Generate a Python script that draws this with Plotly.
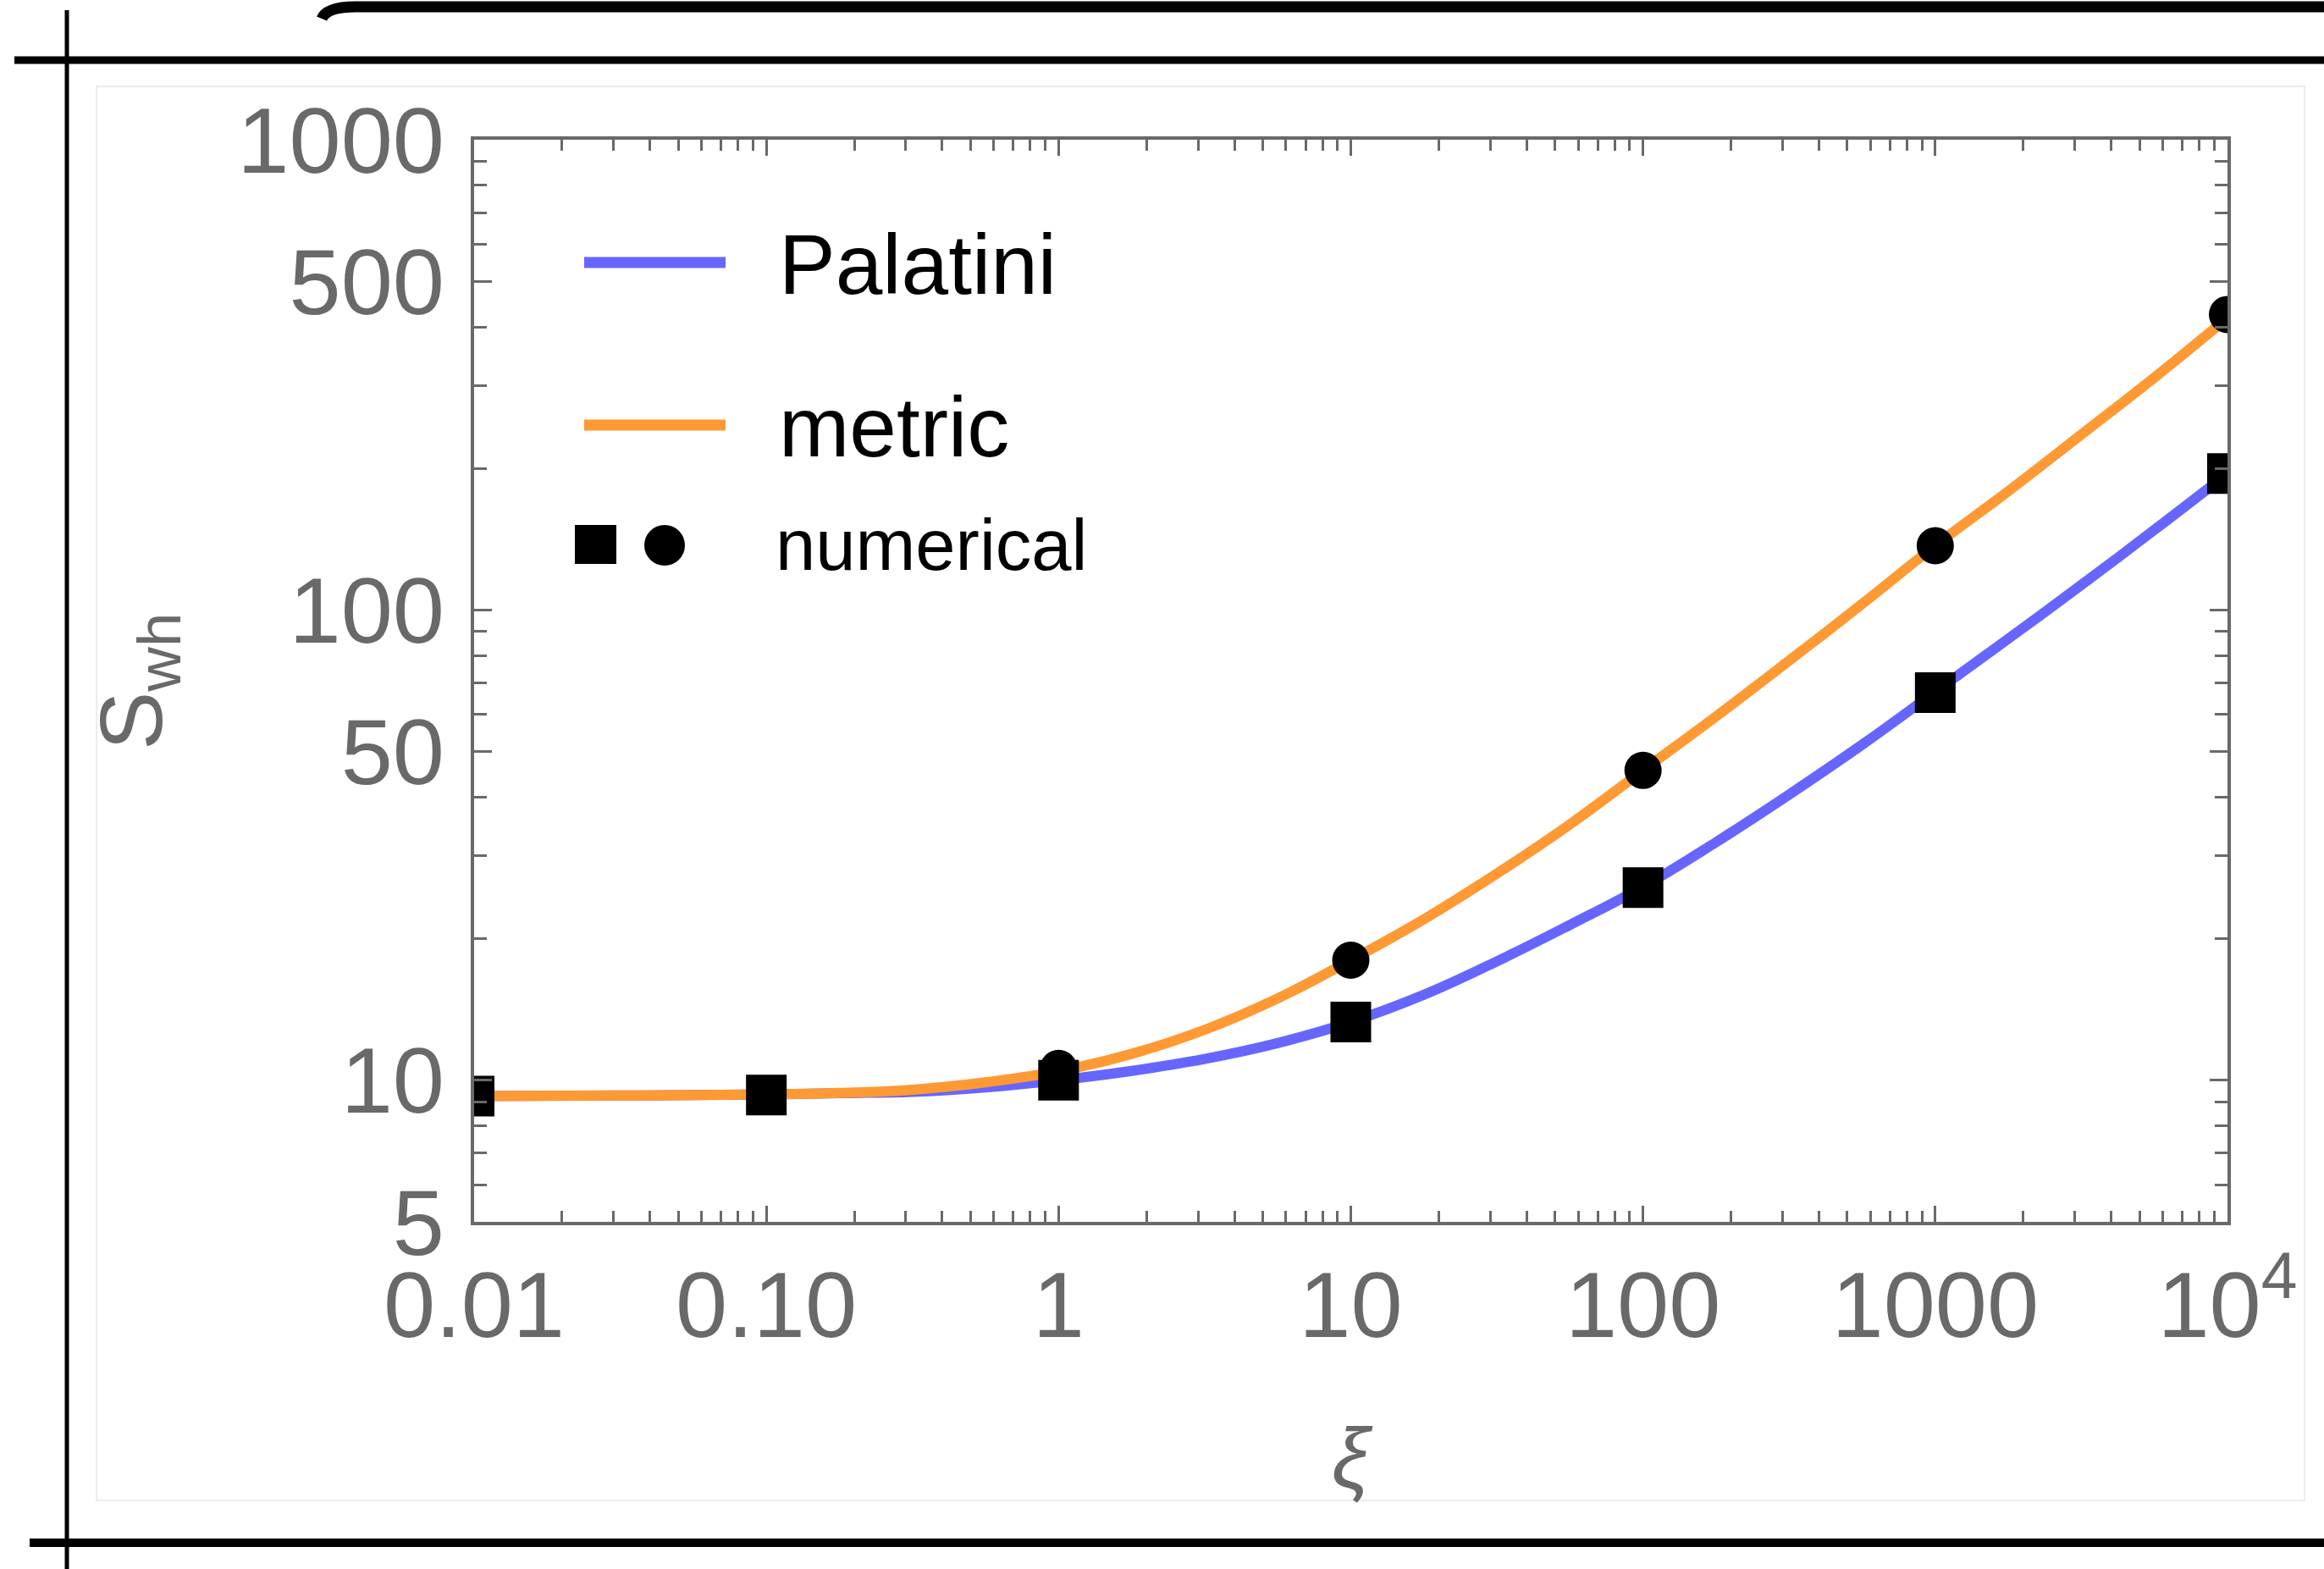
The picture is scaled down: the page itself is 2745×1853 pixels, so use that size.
import plotly.graph_objects as go
import numpy as np

# ---- data -------------------------------------------------------------
# numerical results (squares: Palatini, circles: metric)
xi_pts = [0.01, 0.1, 1, 10, 100, 1000, 10000]
palatini_pts = [9.25, 9.3, 10.0, 13.3, 25.7, 66.7, 195]
metric_pts = [9.25, 9.3, 10.6, 18.0, 45.6, 137, 425]

# analytic curves, sampled every quarter decade in xi
xi_curve = [0.01, 0.0316, 0.1, 0.178, 0.316, 0.562, 1.0, 1.78, 3.16, 5.62,
            10, 17.8, 31.6, 56.2, 100, 178, 316, 562, 1000, 1780, 3160, 5620, 10000]
palatini_curve = [9.25, 9.28, 9.33, 9.39, 9.45, 9.66, 10.0, 10.47, 11.1, 12.0,
                  13.3, 15.2, 17.9, 21.4, 25.8, 32.1, 40.5, 51.7, 67.0, 86.9, 113, 148, 195]
metric_curve = [9.25, 9.28, 9.33, 9.40, 9.55, 9.90, 10.45, 11.38, 12.8, 14.93,
                18.0, 22.0, 27.5, 35.0, 45.6, 59.4, 78.0, 103, 137, 179, 236, 312, 418]

x_tickvals = [0.01, 0.1, 1, 10, 100, 1000, 10000]
x_ticktext = ["0.01", "0.10", "1", "10", "100", "1000", "10<sup>4</sup>"]
y_tickvals = [5, 10, 50, 100, 500, 1000]
y_ticktext = ["5", "10", "50", "100", "500", "1000"]

BLUE = "rgb(102,102,255)"
ORANGE = "rgb(255,153,51)"
GRAY = "#696969"
FONT = "Liberation Sans, Arial, Helvetica, sans-serif"

W, H = 2745, 1853
L, R, T, B = 560, 114, 165, 410
PW, PH = W - L - R, H - T - B


def px(x):
    return (x - L) / PW


def py(y):
    return (H - B - y) / PH


x_minor = [m * 10 ** e for e in range(-2, 4) for m in range(2, 10)]
y_minor = [6, 7, 8, 9, 20, 30, 40, 60, 70, 80, 90, 200, 300, 400, 600, 700, 800, 900]

fig = go.Figure()

fig.add_trace(go.Scatter(x=xi_curve, y=palatini_curve, mode="lines",
                         line=dict(color=BLUE, width=12, shape="spline", smoothing=1.2),
                         showlegend=False))
fig.add_trace(go.Scatter(x=xi_curve, y=metric_curve, mode="lines",
                         line=dict(color=ORANGE, width=12, shape="spline", smoothing=1.2),
                         showlegend=False))
fig.add_trace(go.Scatter(x=xi_pts, y=metric_pts, mode="markers",
                         marker=dict(symbol="circle", size=44, color="black", line=dict(width=0)),
                         showlegend=False))
fig.add_trace(go.Scatter(x=xi_pts, y=palatini_pts, mode="markers",
                         marker=dict(symbol="square", size=48, color="black", line=dict(width=0)),
                         showlegend=False))

axis_common = dict(
    type="log",
    showgrid=False,
    zeroline=False,
    showline=True,
    linecolor=GRAY,
    linewidth=4,
    mirror="ticks",
    ticks="inside",
    tickcolor=GRAY,
    tickwidth=3,
    tickfont=dict(family=FONT, size=110, color=GRAY),
)

fig.update_xaxes(
    **axis_common,
    range=[-2.00001, 4.00001],
    tickmode="array",
    tickvals=x_tickvals,
    ticktext=x_ticktext,
    ticklen=19,
    ticklabelstandoff=0,
    minor=dict(tickvals=x_minor, ticks="inside", ticklen=13, tickwidth=3, tickcolor=GRAY),
)
fig.update_yaxes(
    **axis_common,
    range=[np.log10(4.9999), np.log10(1000.01)],
    tickmode="array",
    tickvals=y_tickvals,
    ticktext=y_ticktext,
    ticklen=21,
    ticklabelstandoff=9,
    minor=dict(tickvals=y_minor, ticks="inside", ticklen=15, tickwidth=3, tickcolor=GRAY),
)

shapes = []
# legend keys
shapes.append(dict(type="line", xref="paper", yref="paper", x0=px(690), x1=px(857),
                   y0=py(310), y1=py(310), line=dict(color=BLUE, width=13)))
shapes.append(dict(type="line", xref="paper", yref="paper", x0=px(690), x1=px(857),
                   y0=py(502), y1=py(502), line=dict(color=ORANGE, width=13)))
shapes.append(dict(type="rect", xref="paper", yref="paper", x0=px(679), x1=px(728),
                   y0=py(620), y1=py(666), fillcolor="black", line=dict(width=0)))
shapes.append(dict(type="circle", xref="paper", yref="paper", x0=px(761), x1=px(809),
                   y0=py(620), y1=py(668), fillcolor="black", line=dict(width=0)))

# outer page frame
shapes.append(dict(type="rect", xref="paper", yref="paper", x0=px(114), x1=px(2722),
                   y0=py(1772), y1=py(102), line=dict(color="#ececec", width=2), layer="below"))
shapes.append(dict(type="line", xref="paper", yref="paper", x0=px(17), x1=px(2745),
                   y0=py(71), y1=py(71), line=dict(color="black", width=9)))
shapes.append(dict(type="line", xref="paper", yref="paper", x0=px(35), x1=px(2745),
                   y0=py(1822), y1=py(1822), line=dict(color="black", width=10)))
shapes.append(dict(type="line", xref="paper", yref="paper", x0=px(79), x1=px(79),
                   y0=py(12), y1=py(1853), line=dict(color="black", width=5)))
shapes.append(dict(type="path", xref="paper", yref="paper",
                   path="M %f,%f Q %f,%f %f,%f L %f,%f" % (px(380), py(22), px(386), py(8), px(420), py(8),
                                                           px(2745), py(8)),
                   line=dict(color="black", width=13)))

annotations = [
    dict(text="Palatini", x=px(918), y=py(312), xref="paper", yref="paper", xanchor="left",
         yanchor="middle", showarrow=False, font=dict(family=FONT, size=100, color="black")),
    dict(text="metric", x=px(918), y=py(504), xref="paper", yref="paper", xanchor="left",
         yanchor="middle", showarrow=False, font=dict(family=FONT, size=100, color="black")),
    dict(text="numerical", x=px(914), y=py(643), xref="paper", yref="paper", xanchor="left",
         yanchor="middle", showarrow=False, font=dict(family=FONT, size=85, color="black")),
    dict(text="<i>ξ</i>", x=px(1597), y=py(1722), xref="paper", yref="paper", xanchor="center",
         yanchor="middle", showarrow=False, font=dict(family=FONT, size=100, color=GRAY)),
    dict(text="S<sub>wh</sub>", x=px(162), y=py(805), xref="paper", yref="paper", xanchor="center",
         yanchor="middle", textangle=-90, showarrow=False, font=dict(family=FONT, size=104, color=GRAY)),
]

fig.update_layout(
    width=W, height=H,
    margin=dict(l=L, r=R, t=T, b=B),
    paper_bgcolor="white",
    plot_bgcolor="white",
    showlegend=False,
    shapes=shapes,
    annotations=annotations,
)

fig.write_html("out.html")
